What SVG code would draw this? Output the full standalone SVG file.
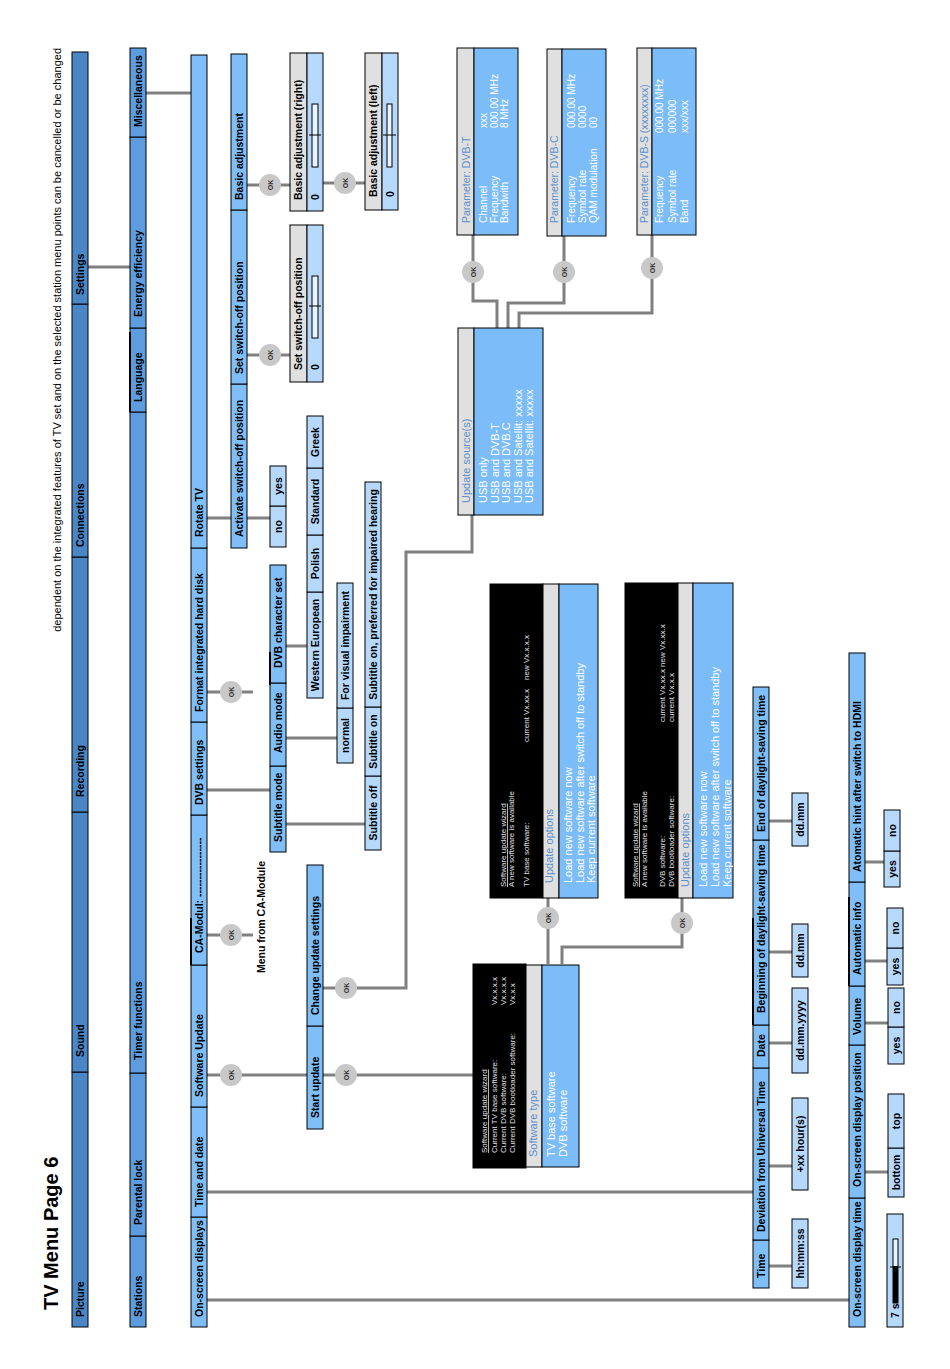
<svg xmlns="http://www.w3.org/2000/svg" width="950" height="1369" viewBox="0 0 950 1369">
<style>
.r1{fill:#4b87c6;stroke:#000;stroke-width:1}
.r2{fill:#5d9ddf;stroke:#000;stroke-width:1}
.r3{fill:#80bef7;stroke:#000;stroke-width:1}
.lf{fill:#b6d9fb;stroke:#000;stroke-width:1}
.hd{fill:#e0e0e0;stroke:#000;stroke-width:1}
.bd{fill:#7cbcf8;stroke:#000;stroke-width:1}
.bk{fill:#000;stroke:#000;stroke-width:1}
.sl{fill:#e8f3fe;stroke:#000;stroke-width:1}
.hl{stroke:#000;stroke-width:2}
.cn{fill:none;stroke:#808080;stroke-width:3}
.ok{fill:#c8c8c8}
text{font-family:"Liberation Sans",Arial,sans-serif}
.t{font-size:10.5px;font-weight:bold;fill:#000}
.c{text-anchor:middle}
.ot{font-size:7px;font-weight:bold;fill:#333;text-anchor:middle}
.h{font-size:11px;fill:#5a8fcc}
.w{font-size:11px;fill:#fff}
.p{font-size:10px;fill:#fff}
.s{font-size:8px;fill:#e0e0e0}
</style>
<rect width="950" height="1369" fill="#fff"/>
<g transform="translate(0 1369) rotate(-90)">
<text id="title" x="59" y="58" style="font-size:20px;font-weight:bold">TV Menu Page 6</text>
<text id="note" x="1321" y="61" text-anchor="end" style="font-size:11px">dependent on the integrated features of TV set and on the selected station menu points can be cancelled or be changed</text>

<g id="connectors" class="cn">
<path d="M1102 88V130"/>
<path d="M1276 146V191"/>
<path d="M851 207V231"/>
<path d="M851 247V270"/>
<path d="M1014 247V290"/>
<path d="M1184 247V290"/>
<path d="M1186 323V365"/>
<path d="M677 207V253"/>
<path d="M579 207V270"/>
<path d="M631 286V337"/>
<path d="M545 286V365"/>
<path d="M723 286V307"/>
<path d="M434 207V253"/>
<path d="M294 207V307"/>
<path d="M294 323V473"/>
<path d="M381 323V406H817V472H854"/>
<path d="M1041 497H1068V473H1134"/>
<path d="M1041 508H1066V564H1133"/>
<path d="M1041 519H1056V652H1134"/>
<path d="M471 548H405"/>
<path d="M405 562H422V682H471"/>
<path d="M177 207V753"/>
<path d="M103 769V792"/><path d="M203 769V792"/><path d="M326 769V792"/><path d="M417 769V792"/><path d="M548 769V792"/>
<path d="M69 207V849"/>
<path d="M197 865V888"/><path d="M346 865V888"/><path d="M408 865V887"/><path d="M507 865V884"/>
</g>
<g id="ok-buttons">
<g><circle class="ok" cx="1014" cy="270" r="11"/><text class="ot" x="1014" y="272.5">OK</text></g>
<g><circle class="ok" cx="1184" cy="270" r="11"/><text class="ot" x="1184" y="272.5">OK</text></g>
<g><circle class="ok" cx="1186" cy="345" r="11"/><text class="ot" x="1186" y="347.5">OK</text></g>
<g><circle class="ok" cx="677" cy="231" r="11"/><text class="ot" x="677" y="233.5">OK</text></g>
<g><circle class="ok" cx="434" cy="231" r="11"/><text class="ot" x="434" y="233.5">OK</text></g>
<g><circle class="ok" cx="294" cy="231" r="11"/><text class="ot" x="294" y="233.5">OK</text></g>
<g><circle class="ok" cx="294" cy="346" r="11"/><text class="ot" x="294" y="348.5">OK</text></g>
<g><circle class="ok" cx="381" cy="346" r="11"/><text class="ot" x="381" y="348.5">OK</text></g>
<g><circle class="ok" cx="1097" cy="473" r="11"/><text class="ot" x="1097" y="475.5">OK</text></g>
<g><circle class="ok" cx="1097" cy="564" r="11"/><text class="ot" x="1097" y="566.5">OK</text></g>
<g><circle class="ok" cx="1101" cy="652" r="11"/><text class="ot" x="1101" y="654.5">OK</text></g>
<g><circle class="ok" cx="451" cy="548" r="11"/><text class="ot" x="451" y="550.5">OK</text></g>
<g><circle class="ok" cx="446" cy="682" r="11"/><text class="ot" x="446" y="684.5">OK</text></g>
</g>

<!-- Row 1 -->
<g id="n-picture"><rect class="r1" x="42" y="72" width="255" height="16"/><text class="t" x="52" y="83.5">Picture</text></g>
<g id="n-sound"><rect class="r1" x="297" y="72" width="260" height="16"/><text class="t" x="312" y="83.5">Sound</text></g>
<g id="n-recording"><rect class="r1" x="557" y="72" width="255" height="16"/><text class="t" x="572" y="83.5">Recording</text></g>
<g id="n-connections"><rect class="r1" x="812" y="72" width="253" height="16"/><text class="t" x="822" y="83.5">Connections</text></g>
<g id="n-settings"><rect class="r1" x="1065" y="72" width="252" height="16"/><text class="t" x="1074" y="83.5">Settings</text></g>

<!-- Row 2 -->
<g id="n-stations"><rect class="r2" x="42" y="130" width="91" height="16"/><text class="t" x="52" y="141.5">Stations</text></g>
<g id="n-parental"><rect class="r2" x="133" y="130" width="163" height="16"/><text class="t" x="144" y="141.5">Parental lock</text></g>
<g id="n-timer"><rect class="r2" x="296" y="130" width="661" height="16"/><text class="t" x="309" y="141.5">Timer functions</text></g>
<g id="n-language"><rect class="r2" x="957" y="130" width="84" height="16"/><line class="hl" x1="957" y1="130" x2="1037" y2="130"/><text class="t" x="967" y="141.5">Language</text></g>
<g id="n-energy"><rect class="r2" x="1041" y="130" width="191" height="16"/><text class="t" x="1052" y="141.5">Energy efficiency</text></g>
<g id="n-misc"><rect class="r2" x="1232" y="130" width="89" height="16"/><text class="t" x="1242" y="141.5">Miscellaneous</text></g>

<!-- Row 3 -->
<g id="n-osd"><rect class="r3" x="42" y="191" width="110" height="16"/><text class="t" x="52" y="202.5">On-screen displays</text></g>
<g id="n-timedate"><rect class="r3" x="152" y="191" width="110" height="16"/><text class="t" x="162" y="202.5">Time and date</text></g>
<g id="n-swupdate"><rect class="r3" x="262" y="191" width="142" height="16"/><text class="t" x="272" y="202.5">Software Update</text></g>
<g id="n-camodul"><rect class="r3" x="404" y="191" width="150" height="16"/><line class="hl" x1="404" y1="191" x2="451" y2="191"/><text class="t" x="416" y="202.5">CA-Modul: -----------------</text></g>
<g id="n-dvbsettings"><rect class="r3" x="554" y="191" width="93" height="16"/><text class="t" x="564" y="202.5">DVB settings</text></g>
<g id="n-format"><rect class="r3" x="647" y="191" width="174" height="16"/><text class="t" x="657" y="202.5">Format integrated hard disk</text></g>
<g id="n-rotate"><rect class="r3" x="821" y="191" width="493" height="16"/><text class="t" x="832" y="202.5">Rotate TV</text></g>

<text id="ca-menu" class="t" x="396" y="265">Menu from CA-Module</text>

<!-- Rotate TV children -->
<g id="n-activate"><rect class="r3" x="821" y="231" width="164" height="16"/><text class="t" x="832" y="242.5">Activate switch-off position</text></g>
<g id="n-setpos"><rect class="r3" x="985" y="231" width="174" height="16"/><text class="t" x="995" y="242.5">Set switch-off position</text></g>
<g id="n-basic"><rect class="r3" x="1159" y="231" width="156" height="16"/><text class="t" x="1169" y="242.5">Basic adjustment</text></g>

<g id="n-act-no"><rect class="lf" x="822" y="270" width="41" height="16"/><text class="t c" x="842.5" y="281.5">no</text></g>
<g id="n-act-yes"><rect class="lf" x="863" y="270" width="40" height="16"/><text class="t c" x="883" y="281.5">yes</text></g>

<g id="p-setpos">
<rect class="hd" x="987" y="290" width="157" height="17"/><rect class="lf" x="987" y="307" width="157" height="16"/>
<text class="t" x="999" y="302">Set switch-off position</text><text class="t" x="999" y="319">0</text>
<rect class="sl" x="1031" y="312" width="62" height="6"/><line stroke="#000" x1="1063" y1="309" x2="1063" y2="321"/>
</g>
<g id="p-basic-right">
<rect class="hd" x="1158" y="290" width="158" height="17"/><rect class="lf" x="1158" y="307" width="158" height="16"/>
<text class="t" x="1169" y="302">Basic adjustment (right)</text><text class="t" x="1169" y="319">0</text>
<rect class="sl" x="1202" y="312" width="63" height="6"/><line stroke="#000" x1="1234" y1="309" x2="1234" y2="321"/>
</g>
<g id="p-basic-left">
<rect class="hd" x="1159" y="365" width="157" height="17"/><rect class="lf" x="1159" y="382" width="157" height="16"/>
<text class="t" x="1172" y="377">Basic adjustment (left)</text><text class="t" x="1172" y="394">0</text>
<rect class="sl" x="1202" y="387" width="63" height="5"/><line stroke="#000" x1="1234" y1="383" x2="1234" y2="396"/>
</g>

<!-- DVB settings children -->
<g id="n-submode"><rect class="r3" x="517" y="270" width="86" height="16"/><text class="t" x="527" y="281.5">Subtitle mode</text></g>
<g id="n-audiomode"><rect class="r3" x="603" y="270" width="83" height="16"/><text class="t" x="616" y="281.5">Audio mode</text></g>
<g id="n-charset"><rect class="r3" x="686" y="270" width="118" height="16"/><line class="hl" x1="684" y1="270" x2="717" y2="270"/><text class="t" x="701" y="281.5">DVB character set</text></g>

<g id="n-normal"><rect class="lf" x="606" y="337" width="55" height="16"/><text class="t c" x="633.5" y="348.5">normal</text></g>
<g id="n-visual"><rect class="lf" x="661" y="337" width="125" height="16"/><text class="t c" x="723.5" y="348.5">For visual impairment</text></g>

<g id="n-suboff"><rect class="lf" x="519" y="365" width="74" height="16"/><text class="t c" x="556" y="376.5">Subtitle off</text></g>
<g id="n-subon"><rect class="lf" x="593" y="365" width="69" height="16"/><text class="t c" x="627.5" y="376.5">Subtitle on</text></g>
<g id="n-subpref"><rect class="lf" x="662" y="365" width="225" height="16"/><text class="t c" x="774.5" y="376.5">Subtitle on, preferred for impaired hearing</text></g>

<g id="n-western"><rect class="lf" x="671" y="307" width="106" height="16"/><text class="t c" x="724" y="318.5">Western European</text></g>
<g id="n-polish"><rect class="lf" x="777" y="307" width="57" height="16"/><text class="t c" x="805.5" y="318.5">Polish</text></g>
<g id="n-standard"><rect class="lf" x="834" y="307" width="67" height="16"/><text class="t c" x="867.5" y="318.5">Standard</text></g>
<g id="n-greek"><rect class="lf" x="901" y="307" width="52" height="16"/><text class="t c" x="927" y="318.5">Greek</text></g>

<!-- Software update children -->
<g id="n-start"><rect class="r3" x="240" y="307" width="103" height="16"/><text class="t" x="251" y="318.5">Start update</text></g>
<g id="n-change"><rect class="r3" x="343" y="307" width="161" height="16"/><text class="t" x="354" y="318.5">Change update settings</text></g>

<g id="p-swtype">
<rect class="bk" x="201" y="473" width="204" height="53"/>
<rect class="hd" x="202" y="526" width="202" height="16"/>
<rect class="bd" x="202" y="542" width="202" height="37"/>
<text class="s" x="216" y="487" text-decoration="underline">Software update wizard</text>
<text class="s" x="216" y="497">Current TV base software:</text>
<text class="s" x="216" y="506">Current DVB software:</text>
<text class="s" x="216" y="515">Current DVB bootloader software:</text>
<text class="s" x="364" y="497">Vx.x.x.x</text>
<text class="s" x="364" y="506">Vx.x.x.x</text>
<text class="s" x="364" y="515">Vx.x.x</text>
<text class="h" x="212" y="537">Software type</text>
<text class="w" x="212" y="555">TV base software</text>
<text class="w" x="212" y="567">DVB software</text>
</g>

<g id="p-source">
<rect class="hd" x="854" y="458" width="187" height="16"/>
<rect class="bd" x="854" y="474" width="187" height="69"/>
<text class="h" x="866" y="470">Update source(s)</text>
<text class="w" x="866" y="487">USB only</text>
<text class="w" x="866" y="498.5">USB and DVB-T</text>
<text class="w" x="866" y="510">USB and DVB.C</text>
<text class="w" x="866" y="521.5">USB and Satellit: xxxxx</text>
<text class="w" x="866" y="533">USB and Satellit: xxxxx</text>
</g>

<g id="p-dvbt">
<rect class="hd" x="1134" y="457" width="187" height="17"/>
<rect class="bd" x="1134" y="474" width="187" height="44"/>
<text class="h" x="1146" y="470" style="font-size:10.5px">Parameter: DVB-T</text>
<text class="p" x="1146" y="487">Channel</text><text class="p" x="1241" y="487">xxx</text>
<text class="p" x="1146" y="497.5">Frequency</text><text class="p" x="1241" y="497.5">000.00 MHz</text>
<text class="p" x="1146" y="508">Bandwith</text><text class="p" x="1241" y="508">8 MHz</text>
</g>
<g id="p-dvbc">
<rect class="hd" x="1133" y="547" width="187" height="15"/>
<rect class="bd" x="1133" y="562" width="187" height="44"/>
<text class="h" x="1146" y="558" style="font-size:10.5px">Parameter: DVB-C</text>
<text class="p" x="1146" y="575">Frequency</text><text class="p" x="1241" y="575">000.00 MHz</text>
<text class="p" x="1146" y="586">Symbol rate</text><text class="p" x="1241" y="586">0000</text>
<text class="p" x="1146" y="597">QAM modulation</text><text class="p" x="1241" y="597">00</text>
</g>
<g id="p-dvbs">
<rect class="hd" x="1134" y="637" width="187" height="15"/>
<rect class="bd" x="1134" y="652" width="187" height="44"/>
<text class="h" x="1146" y="648" style="font-size:10.5px">Parameter: DVB-S (xxxxxxxx)</text>
<text class="p" x="1146" y="663">Frequency</text><text class="p" x="1236" y="663">000.00 MHz</text>
<text class="p" x="1146" y="675.5">Symbol rate</text><text class="p" x="1236" y="675.5">000000</text>
<text class="p" x="1146" y="688">Band</text><text class="p" x="1236" y="688">xxx/xxx</text>
</g>

<g id="p-options-tv">
<rect class="bk" x="471" y="490" width="314" height="53"/>
<rect class="hd" x="471" y="543" width="314" height="16"/>
<rect class="bd" x="471" y="559" width="314" height="39"/>
<text class="s" x="482" y="506" text-decoration="underline">Software update wizard</text>
<text class="s" x="482" y="514">A new software is available</text>
<text class="s" x="482" y="529">TV base software:</text>
<text class="s" x="627" y="529">current Vx.xx.x</text>
<text class="s" x="689" y="529">new Vx.x.x.x</text>
<text class="h" x="486" y="553">Update options</text>
<text class="w" x="486" y="572">Load new software now</text>
<text class="w" x="486" y="583.5">Load new software after switch off to standby</text>
<text class="w" x="486" y="595">Keep current software</text>
</g>

<g id="p-options-dvb">
<rect class="bk" x="471" y="625" width="315" height="53"/>
<rect class="hd" x="471" y="678" width="315" height="15"/>
<rect class="bd" x="471" y="693" width="315" height="40"/>
<text class="s" x="482" y="638" text-decoration="underline">Software update wizard</text>
<text class="s" x="482" y="647">A new software is available</text>
<text class="s" x="482" y="665">DVB software:</text>
<text class="s" x="482" y="674">DVB bootloader software:</text>
<text class="s" x="647" y="665">current Vx.xx.x</text>
<text class="s" x="702" y="665">new Vx.xx.x</text>
<text class="s" x="647" y="674">current Vx.x.x</text>
<text class="h" x="482" y="689">Update options</text>
<text class="w" x="482" y="707">Load new software now</text>
<text class="w" x="482" y="719">Load new software after switch off to standby</text>
<text class="w" x="482" y="731">Keep current software</text>
</g>

<!-- Time and date children -->
<g id="n-time"><rect class="r3" x="81" y="753" width="48" height="16"/><text class="t" x="91" y="764.5">Time</text></g>
<g id="n-deviation"><rect class="r3" x="129" y="753" width="172" height="16"/><text class="t" x="137" y="764.5">Deviation from Universal Time</text></g>
<g id="n-date"><rect class="r3" x="301" y="753" width="43" height="16"/><text class="t" x="312" y="764.5">Date</text></g>
<g id="n-dstbegin"><rect class="r3" x="344" y="753" width="185" height="16"/><line class="hl" x1="344" y1="753" x2="451" y2="753"/><text class="t" x="356" y="764.5">Beginning of daylight-saving time</text></g>
<g id="n-dstend"><rect class="r3" x="529" y="753" width="153" height="16"/><text class="t" x="537" y="764.5">End of daylight-saving time</text></g>

<g id="n-hhmmss"><rect class="lf" x="81" y="792" width="69" height="16"/><text class="t c" x="115.5" y="803.5">hh:mm:ss</text></g>
<g id="n-hours"><rect class="lf" x="179" y="792" width="92" height="16"/><text class="t c" x="225" y="803.5">+xx hour(s)</text></g>
<g id="n-ddmmyyyy"><rect class="lf" x="296" y="792" width="85" height="16"/><text class="t c" x="338.5" y="803.5">dd.mm.yyyy</text></g>
<g id="n-ddmm1"><rect class="lf" x="392" y="792" width="53" height="16"/><text class="t c" x="418.5" y="803.5">dd.mm</text></g>
<g id="n-ddmm2"><rect class="lf" x="523" y="792" width="53" height="16"/><text class="t c" x="549.5" y="803.5">dd.mm</text></g>

<!-- On-screen displays children -->
<g id="n-osdtime"><rect class="r3" x="42" y="849" width="129" height="16"/><text class="t" x="52" y="860.5">On-screen display time</text></g>
<g id="n-osdpos"><rect class="r3" x="171" y="849" width="153" height="16"/><text class="t" x="182" y="860.5">On-screen display position</text></g>
<g id="n-volume"><rect class="r3" x="324" y="849" width="59" height="16"/><text class="t" x="334" y="860.5">Volume</text></g>
<g id="n-autoinfo"><rect class="r3" x="383" y="849" width="104" height="16"/><line class="hl" x1="383" y1="849" x2="472" y2="849"/><text class="t" x="394" y="860.5">Automatic info</text></g>
<g id="n-hint"><rect class="r3" x="487" y="849" width="229" height="16"/><text class="t" x="497" y="860.5">Atomatic hint after switch to HDMI</text></g>

<g id="n-7s"><rect class="lf" x="42" y="887" width="113" height="16"/><text class="t" x="51" y="898.5">7 s</text>
<rect class="sl" x="66" y="893" width="64" height="5"/><rect fill="#000" x="66" y="893" width="37" height="5"/><line stroke="#000" x1="102" y1="890" x2="102" y2="901"/></g>
<g id="n-bottom"><rect class="lf" x="172" y="888" width="49" height="16"/><text class="t c" x="196.5" y="899.5">bottom</text></g>
<g id="n-top"><rect class="lf" x="221" y="888" width="54" height="16"/><text class="t c" x="248" y="899.5">top</text></g>
<g id="n-vol-yes"><rect class="lf" x="305" y="888" width="37" height="16"/><text class="t c" x="323.5" y="899.5">yes</text></g>
<g id="n-vol-no"><rect class="lf" x="342" y="888" width="39" height="16"/><text class="t c" x="361.5" y="899.5">no</text></g>
<g id="n-ai-yes"><rect class="lf" x="384" y="887" width="37" height="16"/><text class="t c" x="402.5" y="898.5">yes</text></g>
<g id="n-ai-no"><rect class="lf" x="421" y="887" width="40" height="16"/><text class="t c" x="441" y="898.5">no</text></g>
<g id="n-hint-yes"><rect class="lf" x="482" y="884" width="36" height="16"/><text class="t c" x="500" y="895.5">yes</text></g>
<g id="n-hint-no"><rect class="lf" x="518" y="884" width="41" height="16"/><text class="t c" x="538.5" y="895.5">no</text></g>
</g>
</svg>
